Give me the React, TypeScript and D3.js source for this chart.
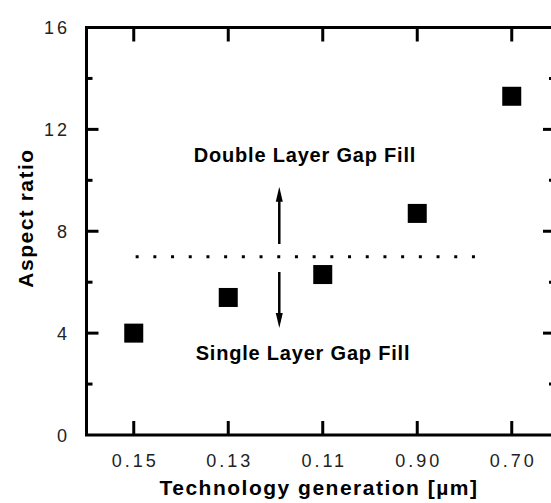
import React, { useEffect, useRef } from 'react';
import * as d3 from 'd3';

const categories = ['0.15', '0.13', '0.11', '0.90', '0.70'];
const aspectRatio = [4.0, 5.4, 6.3, 8.7, 13.3];
const yMajorTicks = [0, 4, 8, 12, 16];
const yMinorTicks = [2, 6, 10, 14];
// dotted boundary between single and double layer gap fill
const boundaryValue = 7;
const boundarySpan = [1.02, 4.74];
const upArrow = [7.5, 9.75];
const downArrow = [6.4, 4.2];
const arrowAt = 2.54;
const labels = ['Double Layer Gap Fill', 'Single Layer Gap Fill'];

const W = 551;
const H = 503;

export default function App() {
  const ref = useRef<SVGSVGElement>(null);

  useEffect(() => {
    const svg = d3.select(ref.current);
    svg.selectAll('*').remove();

    const x = d3.scaleLinear().domain([0.5, 5.5]).range([86.5, 559]);
    const y = d3.scaleLinear().domain([0, 16]).range([435, 27.5]);
    const pos = (i: number) => x(i + 1);

    // frame
    svg.append('rect')
      .attr('x', x(0.5)).attr('y', y(16))
      .attr('width', x(5.5) - x(0.5)).attr('height', y(0) - y(16))
      .attr('fill', 'none').attr('stroke', '#000').attr('stroke-width', 3);

    const g = svg.append('g').attr('stroke', '#000').attr('stroke-width', 3);

    // x ticks, bottom and top, pointing in
    categories.forEach((c, i) => {
      g.append('line').attr('x1', pos(i)).attr('x2', pos(i)).attr('y1', y(0)).attr('y2', y(0) - 14);
      g.append('line').attr('x1', pos(i)).attr('x2', pos(i)).attr('y1', y(16)).attr('y2', y(16) + 14);
    });

    // y ticks, left and right
    yMajorTicks.slice(1, -1).forEach(t => {
      g.append('line').attr('x1', x(0.5)).attr('x2', x(0.5) + 12).attr('y1', y(t)).attr('y2', y(t));
      g.append('line').attr('x1', x(5.5)).attr('x2', x(5.5) - 16).attr('y1', y(t)).attr('y2', y(t));
    });
    yMinorTicks.forEach(t => {
      g.append('line').attr('x1', x(0.5)).attr('x2', x(0.5) + 6).attr('y1', y(t)).attr('y2', y(t));
      g.append('line').attr('x1', x(5.5)).attr('x2', x(5.5) - 10).attr('y1', y(t)).attr('y2', y(t));
    });

    const font = 'Liberation Sans, Arial, sans-serif';

    svg.append('g').selectAll('text').data(yMajorTicks).enter()
      .append('text')
      .attr('x', 70).attr('y', d => y(d) + 6.5)
      .attr('text-anchor', 'end')
      .attr('font-family', font).attr('font-size', 18)
      .attr('letter-spacing', 3)
      .attr('fill', '#222')
      .text(d => d);

    svg.append('g').selectAll('text').data(categories).enter()
      .append('text')
      .attr('x', (d, i) => pos(i) + 1.5).attr('y', 467)
      .attr('text-anchor', 'middle')
      .attr('font-family', font).attr('font-size', 18)
      .attr('letter-spacing', 3)
      .attr('fill', '#222')
      .text(d => d);

    // axis titles
    svg.append('text')
      .attr('x', 319).attr('y', 495)
      .attr('text-anchor', 'middle')
      .attr('font-family', font).attr('font-size', 21).attr('font-weight', 'bold')
      .attr('letter-spacing', 1.5)
      .text('Technology generation [µm]');

    svg.append('text')
      .attr('transform', 'translate(33 218) rotate(-90)')
      .attr('text-anchor', 'middle')
      .attr('font-family', font).attr('font-size', 21).attr('font-weight', 'bold')
      .attr('letter-spacing', 1.5)
      .text('Aspect ratio');

    // boundary
    svg.append('line')
      .attr('x1', x(boundarySpan[0])).attr('x2', x(boundarySpan[1]))
      .attr('y1', y(boundaryValue)).attr('y2', y(boundaryValue))
      .attr('stroke', '#000').attr('stroke-width', 3)
      .attr('stroke-dasharray', '3 14.7');

    // arrows
    const drawArrow = (from: number, to: number) => {
      const ax = x(arrowAt);
      const dir = y(to) < y(from) ? 1 : -1;
      svg.append('line')
        .attr('x1', ax).attr('x2', ax)
        .attr('y1', y(from)).attr('y2', y(to) + dir * 8)
        .attr('stroke', '#000').attr('stroke-width', 2.5);
      const tip = y(to);
      svg.append('path')
        .attr('d', `M${ax},${tip} L${ax - 3.5},${tip + dir * 15} L${ax + 3.5},${tip + dir * 15} Z`)
        .attr('fill', '#000');
    };
    drawArrow(upArrow[0], upArrow[1]);
    drawArrow(downArrow[0], downArrow[1]);

    svg.append('text')
      .attr('x', 305).attr('y', 162)
      .attr('text-anchor', 'middle')
      .attr('font-family', font).attr('font-size', 20).attr('font-weight', 'bold')
      .attr('letter-spacing', 0.8)
      .text(labels[0]);
    svg.append('text')
      .attr('x', 303).attr('y', 360)
      .attr('text-anchor', 'middle')
      .attr('font-family', font).attr('font-size', 20).attr('font-weight', 'bold')
      .attr('letter-spacing', 0.8)
      .text(labels[1]);

    // data squares
    const s = 19;
    svg.append('g').selectAll('rect').data(aspectRatio).enter()
      .append('rect')
      .attr('x', (d, i) => pos(i) - s / 2)
      .attr('y', d => y(d) - s / 2)
      .attr('width', s).attr('height', s)
      .attr('fill', '#000');
  }, []);

  return (
    <div style={{ position: 'absolute', left: 0, top: 0 }}>
      <svg ref={ref} width={W} height={H} style={{ display: 'block', background: '#fff' }} />
    </div>
  );
}
